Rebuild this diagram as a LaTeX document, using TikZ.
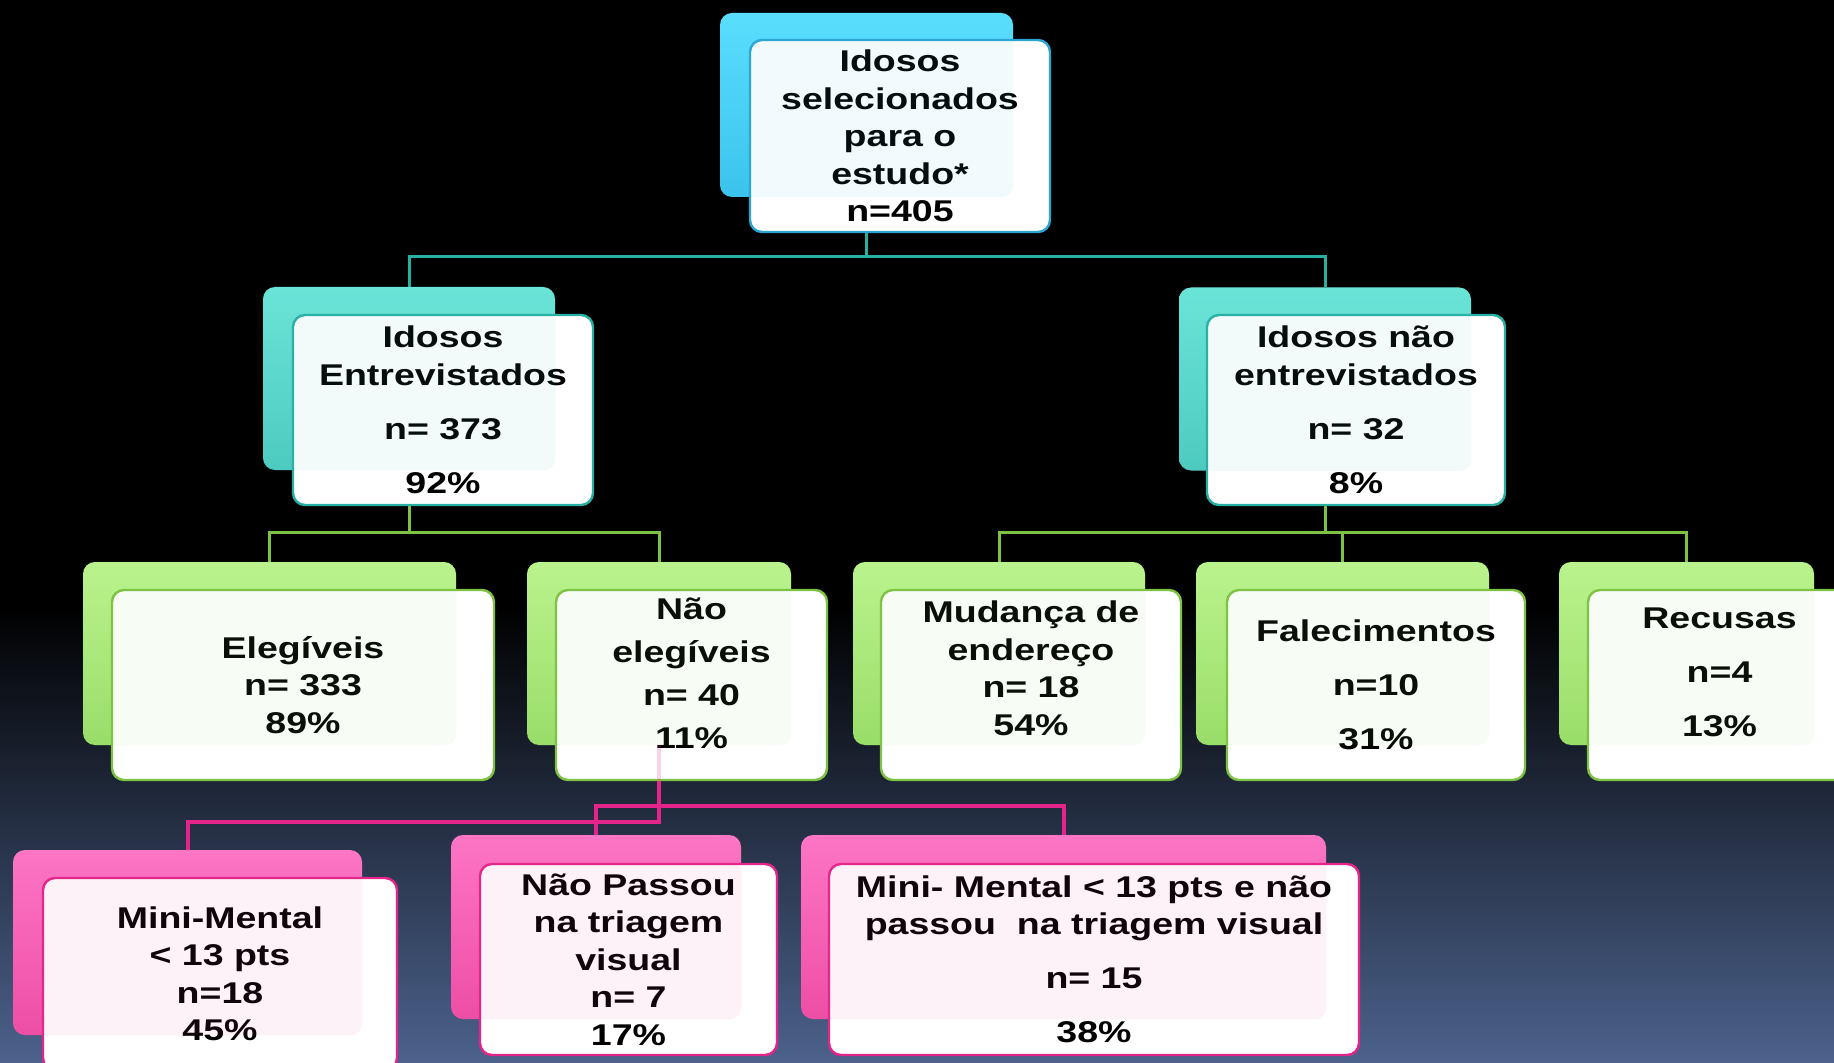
\documentclass[tikz,border=0pt]{standalone}
\usepackage{fontspec}
\setmainfont{Liberation Sans}[FakeStretch=1.25]
\usetikzlibrary{positioning}

\definecolor{fundo}{HTML}{4C628C}
\definecolor{cianoA}{HTML}{5CE0FF}
\definecolor{cianoB}{HTML}{3CC4EE}
\definecolor{cianoL}{HTML}{2AA5D0}
\definecolor{aguaA}{HTML}{6EE6DA}
\definecolor{aguaB}{HTML}{4ECBC0}
\definecolor{aguaL}{HTML}{26B0A2}
\definecolor{verdeA}{HTML}{BDF590}
\definecolor{verdeB}{HTML}{9ADE6A}
\definecolor{verdeL}{HTML}{7DC242}
\definecolor{rosaA}{HTML}{FF78C8}
\definecolor{rosaB}{HTML}{EE4FA6}
\definecolor{rosaL}{HTML}{E4248A}
\pgfdeclareverticalshading{fundoesc}{100bp}{color(0bp)=(fundo); color(25bp)=(fundo);
  color(46.5bp)=(black); color(100bp)=(black)}

\begin{document}
\begin{tikzpicture}[x=0.5pt,y=-0.5pt,
  tras/.style={rounded corners=6pt, inner sep=0pt},
  frente/.style={rounded corners=6pt, fill=white, line width=1.2pt,
    align=center, inner sep=0pt,
    font=\bfseries\fontsize{15pt}{18.75pt}\selectfont},
  ciano/.style={tras, top color=cianoA, bottom color=cianoB},
  agua/.style={tras, top color=aguaA, bottom color=aguaB},
  verde/.style={tras, top color=verdeA, bottom color=verdeB},
  rosa/.style={tras, top color=rosaA, bottom color=rosaB},
  lig/.style={line width=1.5pt}]
  \useasboundingbox (0,0) rectangle (1834,1063);
  \clip (0,0) rectangle (1834,1063);
  \shade[shading=fundoesc] (0,0) rectangle (1834,1063);
  % caixas de tras
  \node[ciano, minimum width=146.5pt, minimum height=92pt] (b1) at (866.5,105) {};
  \node[agua, minimum width=146pt, minimum height=91.5pt] (b2) at (409,378.5) {};
  \node[agua, minimum width=146pt, minimum height=91.5pt] (b3) at (1325,379) {};
  \node[verde, minimum width=186.5pt, minimum height=91.5pt] (b4) at (269.5,653.5) {};
  \node[verde, minimum width=132pt, minimum height=91.5pt] (b5) at (659,653.5) {};
  \node[verde, minimum width=146pt, minimum height=91.5pt] (b6) at (999,653.5) {};
  \node[verde, minimum width=146.5pt, minimum height=91.5pt] (b7) at (1342.5,653.5) {};
  \node[verde, minimum width=127.5pt, minimum height=91.5pt] (b8) at (1686.5,653.5) {};
  \node[rosa, minimum width=174.5pt, minimum height=92.5pt] (b9) at (187.5,942.5) {};
  \node[rosa, minimum width=145pt, minimum height=92pt] (b10) at (596,927) {};
  \node[rosa, minimum width=262.5pt, minimum height=92pt] (b11) at (1063.5,927) {};
  % ligacoes
  \coordinate (j1) at (866.5,257);
  \coordinate (j2) at (409,532);
  \coordinate (j3) at (1325,532);
  \coordinate (j4) at (659,806);
  \coordinate (j5) at (659,822);
  \draw[lig, aguaL] (b1.south) -- (j1) -| (b2.north);
  \draw[lig, aguaL] (j1) -| (b3.north);
  \draw[lig, verdeL] (b2.south) -- (j2) -| (b4.north);
  \draw[lig, verdeL] (j2) -| (b5.north);
  \draw[lig, verdeL] (b3.south) -- (j3) -| (b6.north);
  \draw[lig, verdeL] (j3) -| (b7.north);
  \draw[lig, verdeL] (j3) -| (b8.north);
  \draw[lig, rosaL, line width=2pt] (b5.south) -- (j5) -| (b9.north);
  \draw[lig, rosaL, line width=2pt] (j4) -| (b10.north);
  \draw[lig, rosaL, line width=2pt] (j4) -| (b11.north);
  % caixas da frente
  \node[frente, draw=cianoL, minimum width=150pt, minimum height=96pt] (f1) at (900,136)
    {Idosos\\selecionados\\para o\\estudo*\\n=405};
  \node[frente, draw=aguaL, minimum width=150pt, minimum height=95pt] (f2) at (443,410)
    {Idosos\\Entrevistados\\[8.25pt]n= 373\\[8.25pt]92\%};
  \node[frente, draw=aguaL, minimum width=149pt, minimum height=95pt] (f3) at (1356,410)
    {Idosos não\\entrevistados\\[8.25pt]n= 32\\[8.25pt]8\%};
  \node[frente, draw=verdeL, minimum width=191pt, minimum height=95pt] (f4) at (303,685)
    {Elegíveis\\n= 333\\89\%};
  \node[frente, draw=verdeL, minimum width=135.5pt, minimum height=95pt, text depth=12pt] (f5) at (691.5,685)
    {Não\\[2.75pt]elegíveis\\[2.75pt]n= 40\\[2.75pt]11\%};
  \node[frente, draw=verdeL, minimum width=150pt, minimum height=95pt, text depth=17pt] (f6) at (1031,685)
    {Mudança de\\endereço\\n= 18\\54\%};
  \node[frente, draw=verdeL, minimum width=149pt, minimum height=95pt] (f7) at (1376,685)
    {Falecimentos\\[8.25pt]n=10\\[8.25pt]31\%};
  \node[frente, draw=verdeL, minimum width=131.5pt, minimum height=95pt, text depth=13pt] (f8) at (1719.5,685)
    {Recusas\\[8.25pt]n=4\\[8.25pt]13\%};
  \node[frente, draw=rosaL, minimum width=177pt, minimum height=96pt] (f9) at (220,974)
    {Mini-Mental\\< 13 pts\\n=18\\45\%};
  \node[frente, draw=rosaL, minimum width=148.5pt, minimum height=95.5pt] (f10) at (628.5,959.5)
    {Não Passou\\na triagem\\visual\\n= 7\\17\%};
  \node[frente, draw=rosaL, minimum width=265pt, minimum height=95.5pt] (f11) at (1094,959.5)
    {Mini- Mental < 13 pts e não\\passou\ \ na triagem visual\\[8.25pt]n= 15\\[8.25pt]38\%};
  % veu das caixas de tras sobre as da frente
  \foreach \b/\c in {b1/cianoB,b2/aguaB,b3/aguaB,b4/verdeB,b5/verdeB,b6/verdeB,
      b7/verdeB,b8/verdeB,b9/rosaB,b10/rosaB,b11/rosaB}
    \fill[\c, opacity=.07, rounded corners=6pt] (\b.south west) rectangle (\b.north east);
  \draw[lig, rosaL, line width=2pt, opacity=.2] (b5.south) -- (b5.south |- f5.south);
\end{tikzpicture}
\end{document}
